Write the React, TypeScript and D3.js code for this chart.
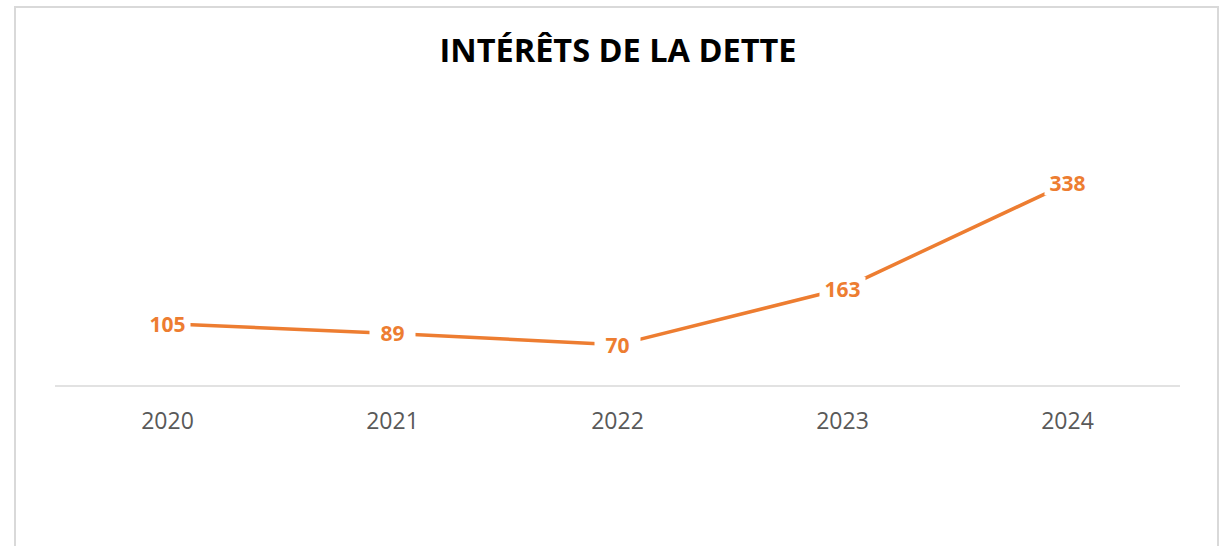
import React from 'react';
import * as d3 from 'd3';

// Chart data
const years = ['2020', '2021', '2022', '2023', '2024'];
const interets = [105, 89, 70, 163, 338];
const title = 'INTÉRÊTS DE LA DETTE';

const W = 1221;
const H = 546;
const orange = '#ED7D31';
const gridGrey = '#d9d9d9';
const font = '"Open Sans", "Noto Sans", sans-serif';

const App = () => {
  // plot area
  const left = 55;
  const right = 1180;
  const baseY = 387;
  const topY = 146;

  const x = d3.scaleBand<string>().domain(years).range([left, right]);
  const y = d3.scaleLinear().domain([0, 400]).range([baseY, topY]);
  const cx = (d: string) => (x(d) as number) + x.bandwidth() / 2;

  const line = d3.line<number>()
    .x((_, i) => cx(years[i]))
    .y(d => y(d));

  // label box behind data labels (hides the line like Excel does)
  const boxW = 46;
  const boxH = 24;

  return (
    <svg width={W} height={H} style={{ position: 'absolute', left: 0, top: 0, display: 'block', background: '#fff' }}>
      {/* chart frame */}
      <rect x={15} y={7} width={1203} height={580} fill="#fff" stroke={gridGrey} strokeWidth={2} />

      {/* title */}
      <text x={618} y={62} textAnchor="middle" fontFamily={font} fontWeight={700} fontSize={32.5} fill="#000">
        {title}
      </text>

      {/* category axis */}
      <line x1={left} x2={right} y1={386} y2={386} stroke={gridGrey} strokeWidth={1.5} />
      {years.map(d => (
        <text key={d} x={cx(d)} y={429} textAnchor="middle" fontFamily={font} fontSize={23} fill="#595959">
          {d}
        </text>
      ))}

      {/* series */}
      <path d={line(interets) || ''} fill="none" stroke={orange} strokeWidth={3.5} strokeLinejoin="round" />

      {/* data labels */}
      {interets.map((v, i) => (
        <g key={years[i]} transform={`translate(${cx(years[i])},${y(v)})`}>
          <rect x={-boxW / 2} y={-boxH / 2} width={boxW} height={boxH} fill="#fff" />
          <text y={8} textAnchor="middle" fontFamily={font} fontWeight={700} fontSize={21} fill={orange}>
            {v}
          </text>
        </g>
      ))}
    </svg>
  );
};

export default App;
